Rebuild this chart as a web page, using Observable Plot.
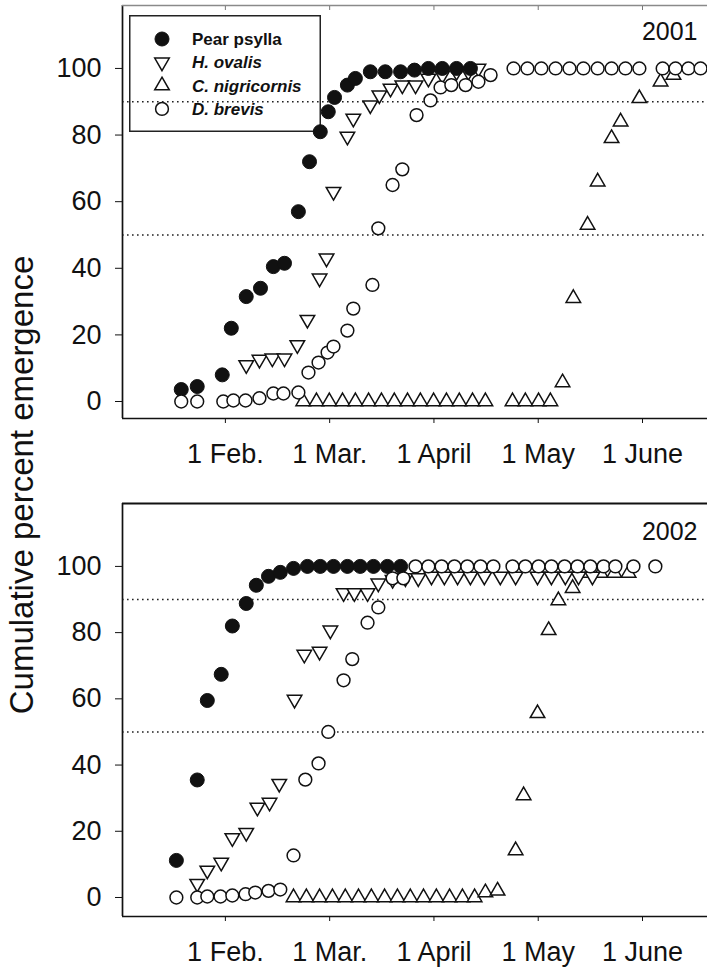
<!DOCTYPE html>
<html><head><meta charset="utf-8">
<script src="https://cdn.jsdelivr.net/npm/d3@7"></script>
<script src="https://cdn.jsdelivr.net/npm/@observablehq/plot@0.6"></script>
<style>
body{margin:0;background:#fff;}
#wrap{position:relative;width:707px;height:972px;font-family:"Liberation Sans",Arial,Helvetica,sans-serif;overflow:hidden;background:#fff;}
#legend{position:absolute;left:129px;top:15px;z-index:0;}
#charts{position:relative;z-index:1;}
#charts svg{display:block;}
#ytitle{position:absolute;left:22px;top:485px;transform:translate(-50%,-50%) rotate(-90deg);white-space:nowrap;font-size:33px;color:#111;z-index:2;}
</style>
</head><body>
<div id="wrap">
  <div id="legend"></div>
  <div id="charts"></div>
  <div id="ytitle">Cumulative percent emergence</div>
</div>
<script>
// ---- tick labels / categories ----
const xTickValues = [30, 60, 90, 120, 150];
const xTickLabels = ["1 Feb.", "1 Mar.", "1 April", "1 May", "1 June"];
const yTickValues = [0, 20, 40, 60, 80, 100];
const refLines = [50, 90];
const seriesNames = ["Pear psylla", "H. ovalis", "C. nigricornis", "D. brevis"];
const years = ["2001", "2002"];

// ---- 2001 ----
const psyllaDay2001 = [17.3, 21.9, 29.1, 31.7, 36.0, 40.1, 43.8, 47.0, 51.0, 54.2, 57.3, 59.6, 61.4, 65.1, 67.4, 71.7, 76.0, 80.4, 84.4, 88.4, 92.4, 96.5, 100.5];
const psyllaPct2001 = [3.6, 4.5, 8, 22, 31.5, 34, 40.5, 41.5, 57, 72, 81, 87, 91.3, 95, 97, 99, 99, 99, 99.5, 100, 100, 100, 100];
const ovalisDay2001 = [36.0, 39.8, 43.5, 47.0, 50.7, 53.6, 57.1, 59.1, 61.1, 65.1, 66.8, 71.7, 74.3, 77.5, 80.9, 84.7, 88.4, 92.4, 96.5, 99.9, 102.8];
const ovalisPct2001 = [11, 12.6, 13, 13, 17, 24.6, 37, 43, 63, 79.6, 85, 89, 92, 94, 95, 95, 97, 98, 99, 99, 100];
const nigriDay2001 = [52.4, 56.2, 59.9, 63.7, 67.4, 71.2, 74.9, 78.6, 82.4, 86.1, 89.9, 93.6, 97.3, 101.1, 104.8, 112.6, 116.3, 120.1, 123.5, 127.0, 130.1, 134.2, 137.1, 141.1, 143.7, 149.1, 155.2, 158.9];
const nigriPct2001 = [0, 0, 0, 0, 0, 0, 0, 0, 0, 0, 0, 0, 0, 0, 0, 0, 0, 0, 0, 5.7, 31, 53, 66, 79, 84, 91, 96, 98];
const brevisDay2001 = [17.3, 21.9, 29.4, 32.3, 35.8, 39.8, 43.8, 46.7, 51.0, 53.9, 56.8, 59.4, 61.1, 65.1, 66.8, 72.3, 74.0, 78.1, 80.9, 85.0, 89.0, 91.9, 95.0, 99.1, 102.8, 106.3, 112.9, 116.9, 120.9, 125.0, 129.0, 133.0, 137.1, 141.1, 145.1, 149.1, 155.8, 159.5, 163.2, 166.7];
const brevisPct2001 = [0, 0, 0, 0.3, 0.3, 1, 2.4, 2.4, 2.7, 8.7, 11.7, 14.7, 16.5, 21.3, 27.9, 35, 52, 65, 69.7, 86, 90.4, 94.3, 95, 95, 96, 98, 100, 100, 100, 100, 100, 100, 100, 100, 100, 100, 100, 100, 100, 100];

// ---- 2002 ----
const psyllaDay2002 = [15.9, 21.9, 24.8, 28.8, 32.0, 36.0, 38.9, 42.4, 45.8, 49.6, 53.6, 57.3, 61.1, 65.1, 68.8, 72.6, 76.6, 80.4];
const psyllaPct2002 = [11.2, 35.5, 59.5, 67.4, 82, 88.8, 94.3, 97, 98.2, 99.4, 100, 100, 100, 100, 100, 100, 100, 100];
const ovalisDay2002 = [21.9, 24.8, 28.8, 32.0, 36.0, 39.2, 42.7, 45.5, 49.9, 52.7, 57.1, 60.2, 64.0, 67.1, 70.9, 74.0, 78.1, 81.8, 85.5, 89.3, 93.0, 96.8, 100.5, 104.5, 109.1, 113.5, 119.8, 123.8, 127.8, 131.6, 135.6];
const ovalisPct2002 = [4.2, 8.2, 10.6, 18, 19.6, 27.2, 28.7, 34.4, 59.8, 73.4, 74.3, 80.7, 92, 92, 92, 94.9, 96, 96.5, 96.5, 97, 97, 97, 97, 97, 97, 97, 97, 97, 97, 97, 97];
const nigriDay2002 = [49.6, 53.3, 57.1, 60.8, 64.5, 68.3, 72.0, 75.8, 79.5, 83.2, 87.0, 90.7, 94.5, 98.2, 101.7, 104.8, 108.3, 113.5, 115.8, 119.8, 123.0, 125.8, 129.9, 133.6, 137.9, 141.9, 146.0];
const nigriPct2002 = [0, 0, 0, 0, 0, 0, 0, 0, 0, 0, 0, 0, 0, 0, 0, 1.5, 2, 14.2, 30.8, 55.6, 80.7, 89.7, 93.4, 98, 98, 98, 98];
const brevisDay2002 = [15.9, 21.9, 24.8, 28.6, 32.0, 35.8, 38.6, 42.4, 45.8, 49.6, 53.0, 56.8, 59.6, 64.0, 66.5, 70.9, 74.0, 78.1, 81.2, 84.7, 88.4, 92.2, 95.9, 99.6, 103.4, 107.1, 112.6, 116.3, 120.1, 123.8, 127.6, 131.3, 135.0, 138.8, 142.2, 147.4, 153.7];
const brevisPct2002 = [0, 0, 0.3, 0.3, 0.6, 1, 1.5, 2, 2.4, 12.7, 35.6, 40.5, 50, 65.6, 72, 83, 87.6, 96.4, 96.4, 100, 100, 100, 100, 100, 100, 100, 100, 100, 100, 100, 100, 100, 100, 100, 100, 100, 100];

// ---- helpers ----
function rows(days, pct) { return days.map((d, i) => ({day: d, pct: pct[i]})); }

const triangleDown = {
  draw(context, size) {
    const y = -Math.sqrt(size / (3 * Math.sqrt(3)));
    context.moveTo(0, -y * 2);
    context.lineTo(-Math.sqrt(3) * y, y);
    context.lineTo(Math.sqrt(3) * y, y);
    context.closePath();
  }
};

const markerStyle = [
  {symbol: "circle", r: 7, fill: "#111", stroke: "#111", strokeWidth: 1},
  {symbol: triangleDown, r: 5.4, fill: "white", stroke: "#111", strokeWidth: 1.5},
  {symbol: "triangle", r: 5.4, fill: "white", stroke: "#111", strokeWidth: 1.5},
  {symbol: "circle", r: 6.4, fill: "white", stroke: "#111", strokeWidth: 1.5}
];

const xDomain = [0.4, 168.7];
const FONT = '"Liberation Sans", Arial, Helvetica, sans-serif';

function panel(cfg) {
  const {year, series, yDomain, height, marginTop, marginBottom, topStroke, topWidth, topTicks, yearDy} = cfg;
  const order = [2, 1, 0, 3];
  const marks = [
    Plot.ruleY(refLines, {stroke: "#222", strokeWidth: 1.4, strokeDasharray: "1.6,3.4"}),
    Plot.ruleX([xDomain[0]], {stroke: "#111", strokeWidth: 1.7}),
    Plot.ruleY([yDomain[0]], {stroke: "#111", strokeWidth: 1.7}),
    Plot.ruleY([yDomain[1]], {stroke: topStroke, strokeWidth: topWidth}),
    Plot.axisX({ticks: xTickValues, tickFormat: d => xTickLabels[xTickValues.indexOf(d)], tickSize: 5, tickPadding: 20, label: null, fontSize: 27, stroke: "#111", fill: "#111"}),
    Plot.axisY({ticks: yTickValues, tickSize: 7, tickPadding: 14, label: null, fontSize: 27, stroke: "#111", fill: "#111"})
  ];
  if (topTicks) marks.push(Plot.axisX({anchor: "top", ticks: xTickValues, tickSize: -4, tickFormat: () => "", label: null, stroke: "#777"}));
  for (const k of order) {
    marks.push(Plot.dot(series[k], {x: "day", y: "pct", ...markerStyle[k]}));
  }
  marks.push(Plot.text([year], {text: d => d, frameAnchor: "top-right", dx: -10, dy: yearDy, textAnchor: "end", lineAnchor: "top", fontSize: 25, fill: "#111"}));
  return Plot.plot({
    width: 707, height, marginLeft: 122, marginRight: 0, marginTop, marginBottom,
    x: {domain: xDomain, label: null},
    y: {domain: yDomain, label: null},
    style: {background: "transparent", fontFamily: FONT, fontSize: "27px", color: "#111", overflow: "visible"},
    marks
  });
}

const charts = document.getElementById("charts");
charts.appendChild(panel({
  year: years[0],
  series: [rows(psyllaDay2001, psyllaPct2001), rows(ovalisDay2001, ovalisPct2001), rows(nigriDay2001, nigriPct2001), rows(brevisDay2001, brevisPct2001)],
  yDomain: [-5.1, 118.9], height: 470, marginTop: 5, marginBottom: 52,
  topStroke: "#8a8a8a", topWidth: 1.5, topTicks: true, yearDy: 17
}));
charts.appendChild(panel({
  year: years[1],
  series: [rows(psyllaDay2002, psyllaPct2002), rows(ovalisDay2002, ovalisPct2002), rows(nigriDay2002, nigriPct2002), rows(brevisDay2002, brevisPct2002)],
  yDomain: [-5.74, 119.0], height: 502, marginTop: 33, marginBottom: 56,
  topStroke: "#111", topWidth: 2, topTicks: false, yearDy: 19
}));

// ---- legend (drawn under the data) ----
const lg = d3.select("#legend").append("svg").attr("width", 192).attr("height", 117);
lg.append("rect").attr("x", 0.75).attr("y", 0.75).attr("width", 190.5).attr("height", 115.5)
  .attr("fill", "white").attr("stroke", "#222").attr("stroke-width", 1.5);
const symbolTypes = [d3.symbolCircle, triangleDown, d3.symbolTriangle, d3.symbolCircle];
seriesNames.forEach((name, i) => {
  const cy = 24 + i * 23.3;
  const st = markerStyle[i];
  lg.append("path")
    .attr("d", d3.symbol(symbolTypes[i], st.r * st.r * Math.PI)())
    .attr("transform", `translate(33,${cy})`)
    .attr("fill", st.fill).attr("stroke", st.stroke).attr("stroke-width", st.strokeWidth);
  lg.append("text").attr("x", 63).attr("y", cy).attr("dy", "0.36em")
    .attr("font-family", FONT)
    .attr("font-size", 17).attr("font-weight", "bold")
    .attr("font-style", i === 0 ? "normal" : "italic")
    .attr("fill", "#111").text(name);
});
</script>
</body></html>
